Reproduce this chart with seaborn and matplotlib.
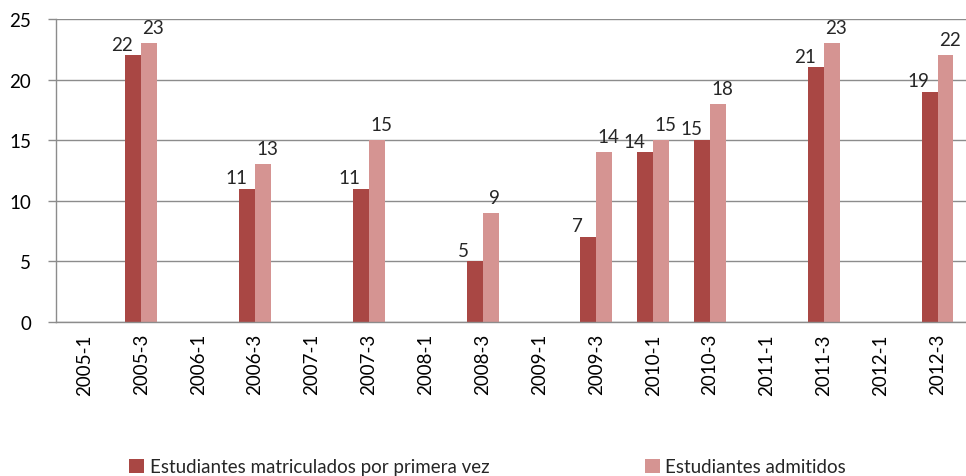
import numpy as np
import pandas as pd
import matplotlib
matplotlib.use('Agg')
import matplotlib.pyplot as plt
import seaborn as sns

sns.set_theme(style='white')
plt.rcParams['font.family'] = ['Lato', 'DejaVu Sans']

periods = ['2005-1', '2005-3', '2006-1', '2006-3', '2007-1', '2007-3', '2008-1', '2008-3',
           '2009-1', '2009-3', '2010-1', '2010-3', '2011-1', '2011-3', '2012-1', '2012-3']
matriculados = [np.nan, 22, np.nan, 11, np.nan, 11, np.nan, 5,
                np.nan, 7, 14, 15, np.nan, 21, np.nan, 19]
admitidos = [np.nan, 23, np.nan, 13, np.nan, 15, np.nan, 9,
             np.nan, 14, 15, 18, np.nan, 23, np.nan, 22]
series_names = ['Estudiantes matriculados por primera vez', 'Estudiantes admitidos']
colors = ['#A94744', '#D59492']

df = pd.DataFrame({
  'periodo': periods * 2,
  'valor': matriculados + admitidos,
  'serie': [series_names[0]] * len(periods) + [series_names[1]] * len(periods),
})

fs = 13.5
fig = plt.figure(figsize=(9.66, 4.77), dpi=100)
ax = fig.add_axes([0.058, 0.323, 0.942, 0.635])

sns.barplot(data=df, x='periodo', y='valor', hue='serie', order=periods,
            hue_order=series_names, palette=colors, width=0.56, gap=0,
            errorbar=None, saturation=1, linewidth=0, ax=ax, legend=True)

ax.set_ylim(0, 25)
ax.set_xlim(-0.5, len(periods) - 0.5)
ax.set_yticks(range(0, 26, 5))
ax.yaxis.grid(True, color='#8c8c8c', linewidth=1)
ax.set_axisbelow(True)
for s in ['top', 'right']:
  ax.spines[s].set_visible(False)
for s in ['left', 'bottom']:
  ax.spines[s].set_color('#8c8c8c')
  ax.spines[s].set_linewidth(1)
ax.set_xlabel('')
ax.set_ylabel('')

ax.set_xticks(range(len(periods)))
ax.set_xticklabels(periods, rotation=90, fontsize=fs, color='black')
ax.set_xticks(np.arange(-0.5, len(periods), 1), minor=True)
ax.tick_params(axis='x', which='major', length=0, pad=8)
ax.tick_params(axis='x', which='minor', length=6, color='#8c8c8c', width=1)
ax.tick_params(axis='y', length=6, color='#8c8c8c', width=1, labelsize=fs, labelcolor='black', pad=12, left=True)

# value labels
for i in range(len(periods)):
  if not np.isnan(matriculados[i]):
    ax.annotate(f'{int(matriculados[i])}', (i - 0.14, matriculados[i]), xytext=(-8, 2),
                textcoords='offset points', ha='center', va='bottom', fontsize=fs)
  if not np.isnan(admitidos[i]):
    ax.annotate(f'{int(admitidos[i])}', (i + 0.14, admitidos[i]), xytext=(3, 5),
                textcoords='offset points', ha='center', va='bottom', fontsize=fs)

handles, labels = ax.get_legend_handles_labels()
ax.get_legend().remove()
fig.legend(handles, labels, loc='center left', bbox_to_anchor=(112 / 966, 1 - 468 / 477), ncol=2,
           frameon=False, fontsize=fs, handlelength=0.8, handleheight=0.8,
           handletextpad=0.3, columnspacing=8.3)

plt.savefig('out.png', dpi=100)
plt.close()
